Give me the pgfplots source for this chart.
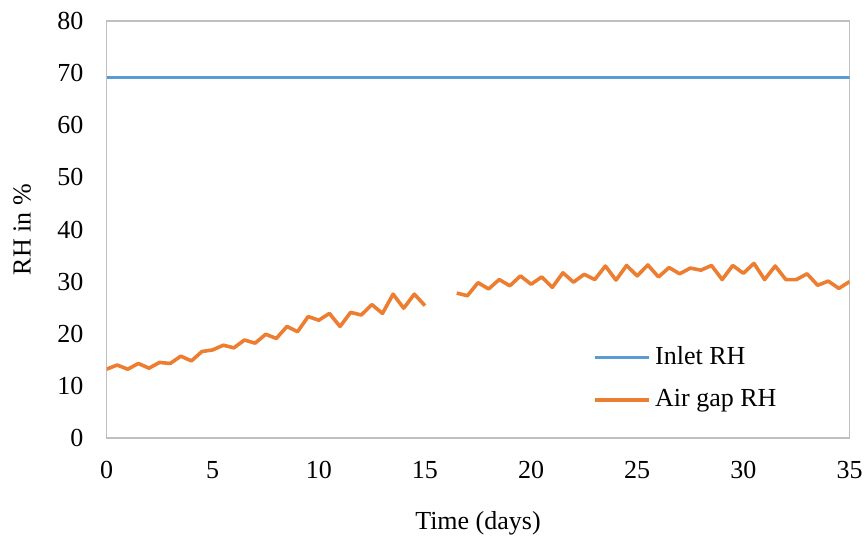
\documentclass[border=0pt]{standalone}
\usepackage{pgfplots}
\pgfplotsset{compat=1.18}
\usepackage{fontspec}
\setmainfont{Liberation Serif}
\definecolor{cblue}{HTML}{5B9BD5}
\definecolor{corange}{HTML}{ED7D31}
\definecolor{cgray}{HTML}{BFBFBF}
\pgfplotstableread{
t rh
0 13.2
0.5 14.0
1 13.2
1.5 14.3
2 13.4
2.5 14.5
3 14.3
3.5 15.7
4 14.8
4.5 16.6
5 16.9
5.5 17.8
6 17.3
6.5 18.8
7 18.2
7.5 19.9
8 19.1
8.5 21.4
9 20.4
9.5 23.3
10 22.6
10.5 23.9
11 21.4
11.5 24.1
12 23.6
12.5 25.6
13 23.9
13.5 27.6
14 24.9
14.5 27.6
15 25.4
15.5 nan
16 nan
16.5 27.8
17 27.3
17.5 29.8
18 28.6
18.5 30.4
19 29.2
19.5 31.1
20 29.5
20.5 30.9
21 28.9
21.5 31.7
22 29.9
22.5 31.4
23 30.4
23.5 33.0
24 30.3
24.5 33.1
25 31.1
25.5 33.2
26 30.9
26.5 32.7
27 31.5
27.5 32.6
28 32.2
28.5 33.1
29 30.4
29.5 33.1
30 31.6
30.5 33.5
31 30.4
31.5 33.0
32 30.4
32.5 30.4
33 31.5
33.5 29.3
34 30.1
34.5 28.7
35 30.0
}\airgap
\pgfplotstableread{
t rh
0 69.2
35 69.2
}\inlet
\begin{document}
\fontsize{13}{15.6}\selectfont
\begin{tikzpicture}
\useasboundingbox (0,0) rectangle (432.5pt,269pt);
\begin{axis}[
  at={(53.25pt,50pt)}, anchor=south west,
  scale only axis, width=371.5pt, height=208.5pt,
  xmin=0, xmax=35, ymin=0, ymax=80,
  xtick={0,5,...,35}, ytick={0,10,...,80},
  major tick length=0pt,
  axis line style={cgray, line width=0.75pt},
  /pgf/number format/assume math mode=true,
  ticklabel style={font=\fontsize{13}{15.6}\selectfont},
  yticklabel style={xshift=-7pt},
  xticklabel style={yshift=-7pt},
  xlabel={Time (days)}, ylabel={RH in \%},
  label style={font=\fontsize{13}{15.6}\selectfont},
  xlabel style={at={(axis description cs:0.5,-0.204)}, anchor=center},
  ylabel style={at={(axis description cs:-0.1137,0.5)}, anchor=center},
  unbounded coords=jump,
  legend style={at={(axis description cs:0.655,0.23)}, anchor=north west, draw=none, fill=none,
    font=\fontsize{13}{15.6}\selectfont, row sep=6.5pt, inner sep=0pt},
  legend cell align=left,
  legend image code/.code={\draw[#1] (0pt,0pt) -- (27pt,0pt);},
]
\addplot[cblue, line width=1.75pt, no marks] table[x=t,y=rh] {\inlet};
\addlegendentry{Inlet RH}
\addplot[corange, line width=1.8pt, no marks, line join=round] table[x=t,y=rh] {\airgap};
\addlegendentry{Air gap RH}
\end{axis}
\end{tikzpicture}
\end{document}
